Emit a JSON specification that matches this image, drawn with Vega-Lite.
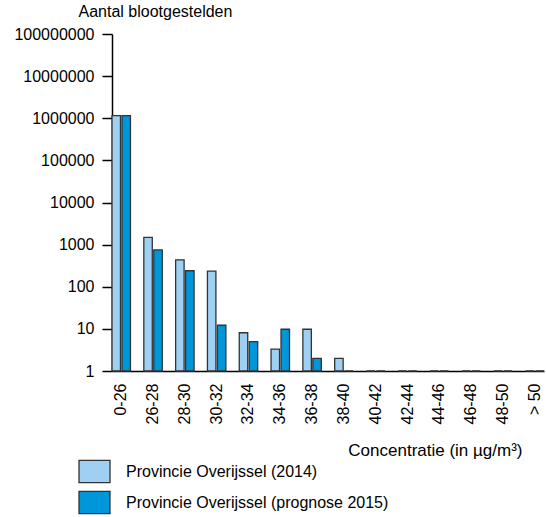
{
  "$schema": "https://vega.github.io/schema/vega-lite/v6.json",
  "width": 432,
  "height": 337,
  "autosize": {"type": "none"},
  "padding": {"left": 112, "top": 34, "right": 2, "bottom": 146},
  "background": "white",
  "config": {
    "view": {"stroke": null},
    "font": "Liberation Sans",
    "axis": {"grid": false, "domainColor": "#000", "tickColor": "#000", "labelColor": "#000", "titleColor": "#000", "titleFontWeight": "normal"}
  },
  "data": {
    "values": [
      {"klasse": "0-26", "reeks": "Provincie Overijssel (2014)", "aantal": 1150000},
      {"klasse": "0-26", "reeks": "Provincie Overijssel (prognose 2015)", "aantal": 1150000},
      {"klasse": "26-28", "reeks": "Provincie Overijssel (2014)", "aantal": 1480},
      {"klasse": "26-28", "reeks": "Provincie Overijssel (prognose 2015)", "aantal": 750},
      {"klasse": "28-30", "reeks": "Provincie Overijssel (2014)", "aantal": 435},
      {"klasse": "28-30", "reeks": "Provincie Overijssel (prognose 2015)", "aantal": 240},
      {"klasse": "30-32", "reeks": "Provincie Overijssel (2014)", "aantal": 234},
      {"klasse": "30-32", "reeks": "Provincie Overijssel (prognose 2015)", "aantal": 12.2},
      {"klasse": "32-34", "reeks": "Provincie Overijssel (2014)", "aantal": 8.1},
      {"klasse": "32-34", "reeks": "Provincie Overijssel (prognose 2015)", "aantal": 5},
      {"klasse": "34-36", "reeks": "Provincie Overijssel (2014)", "aantal": 3.3},
      {"klasse": "34-36", "reeks": "Provincie Overijssel (prognose 2015)", "aantal": 9.8},
      {"klasse": "36-38", "reeks": "Provincie Overijssel (2014)", "aantal": 9.8},
      {"klasse": "36-38", "reeks": "Provincie Overijssel (prognose 2015)", "aantal": 2},
      {"klasse": "38-40", "reeks": "Provincie Overijssel (2014)", "aantal": 2},
      {"klasse": "38-40", "reeks": "Provincie Overijssel (prognose 2015)", "aantal": 1},
      {"klasse": "40-42", "reeks": "Provincie Overijssel (2014)", "aantal": 1},
      {"klasse": "40-42", "reeks": "Provincie Overijssel (prognose 2015)", "aantal": 1},
      {"klasse": "42-44", "reeks": "Provincie Overijssel (2014)", "aantal": 1},
      {"klasse": "42-44", "reeks": "Provincie Overijssel (prognose 2015)", "aantal": 1},
      {"klasse": "44-46", "reeks": "Provincie Overijssel (2014)", "aantal": 1},
      {"klasse": "44-46", "reeks": "Provincie Overijssel (prognose 2015)", "aantal": 1},
      {"klasse": "46-48", "reeks": "Provincie Overijssel (2014)", "aantal": 1},
      {"klasse": "46-48", "reeks": "Provincie Overijssel (prognose 2015)", "aantal": 1},
      {"klasse": "48-50", "reeks": "Provincie Overijssel (2014)", "aantal": 1},
      {"klasse": "48-50", "reeks": "Provincie Overijssel (prognose 2015)", "aantal": 1},
      {"klasse": "> 50", "reeks": "Provincie Overijssel (2014)", "aantal": 1},
      {"klasse": "> 50", "reeks": "Provincie Overijssel (prognose 2015)", "aantal": 1}
    ]
  },
  "mark": {"type": "bar", "stroke": "#333333", "strokeWidth": 1.3},
  "encoding": {
    "x": {
      "field": "klasse",
      "type": "nominal",
      "sort": null,
      "scale": {"paddingInner": 0.42, "paddingOuter": 0},
      "axis": {
        "title": "Concentratie (in µg/m³)",
        "titleFontSize": 17,
        "titleAlign": "right",
        "titleAnchor": null,
        "titleBaseline": "alphabetic",
        "titleX": 410,
        "titleY": 84,
        "labelAngle": -90,
        "labelFontSize": 16,
        "labelPadding": 12,
        "ticks": false,
        "tickSize": 0,
        "domainWidth": 1.5
      }
    },
    "xOffset": {
      "field": "reeks",
      "type": "nominal",
      "sort": ["Provincie Overijssel (2014)", "Provincie Overijssel (prognose 2015)"],
      "scale": {"paddingInner": 0.15, "paddingOuter": 0}
    },
    "y": {
      "field": "aantal",
      "type": "quantitative",
      "scale": {"type": "log", "domain": [1, 100000000], "nice": false},
      "axis": {
        "title": "Aantal blootgestelden",
        "titleFontSize": 16,
        "titleAngle": 0,
        "titleAlign": "left",
        "titleAnchor": null,
        "titleBaseline": "alphabetic",
        "titleX": -34,
        "titleY": -18,
        "values": [1, 10, 100, 1000, 10000, 100000, 1000000, 10000000, 100000000],
        "format": "d",
        "labelFontSize": 16,
        "labelPadding": 8,
        "tickSize": 10,
        "tickWidth": 1.5,
        "domainWidth": 1.5
      }
    },
    "y2": {"datum": 1},
    "fill": {
      "field": "reeks",
      "type": "nominal",
      "sort": ["Provincie Overijssel (2014)", "Provincie Overijssel (prognose 2015)"],
      "scale": {"range": ["#9FCFF2", "#0097DA"]},
      "legend": {
        "title": null,
        "orient": "none",
        "legendX": -34,
        "legendY": 421,
        "padding": 0,
        "symbolType": "M-1,-0.72L1,-0.72L1,0.72L-1,0.72Z",
        "symbolSize": 961,
        "symbolStrokeColor": "#333333",
        "symbolStrokeWidth": 1.3,
        "labelFontSize": 16,
        "labelColor": "#000",
        "labelOffset": 15,
        "rowPadding": -3,
        "labelLimit": 400
      }
    }
  }
}
